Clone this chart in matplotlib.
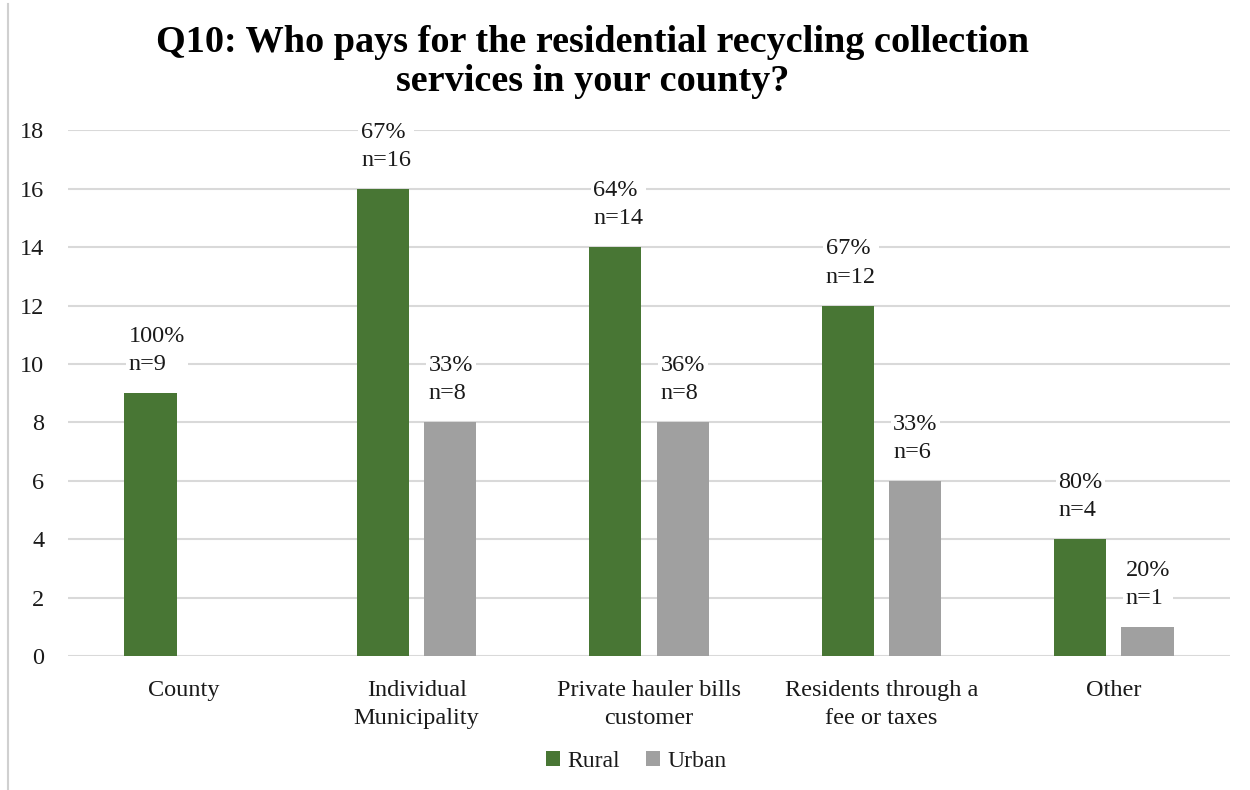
import numpy as np
import matplotlib.pyplot as plt
from matplotlib.lines import Line2D

plt.rcParams['font.family'] = ['Liberation Serif', 'DejaVu Serif']

categories = ['County', 'Individual\nMunicipality', 'Private hauler bills\ncustomer',
              'Residents through a\nfee or taxes', 'Other']
rural = [9, 16, 14, 12, 4]
urban = [0, 8, 8, 6, 1]
rural_pct = ['100%', '67%', '64%', '67%', '80%']
urban_pct = [None, '33%', '36%', '33%', '20%']

green = '#487634'
grey = '#a0a0a0'
text_col = '#1a1a1a'

fig = plt.figure(figsize=(12.5, 7.9), dpi=100)
ax = fig.add_axes([0.0544, 0.1696, 0.9296, 0.6654])

x = np.arange(len(categories))
w = 0.224
off = 0.145

ax.bar(x - off, rural, w, color=green, label='Rural', zorder=3)
ax.bar(x[np.array(urban) > 0] + off, [u for u in urban if u > 0], w,
       color=grey, label='Urban', zorder=3)

# value labels: percentage on top, count underneath
def add_label(xpos, val, pct):
    ax.annotate(f'{pct}\nn={val}', xy=(xpos - w / 2, val), xytext=(3, 13),
                textcoords='offset points', ha='left', va='bottom',
                fontsize=17.5, color=text_col, linespacing=1.45, zorder=4,
                bbox=dict(facecolor='white', edgecolor='none', pad=2))

for i in range(len(categories)):
    add_label(x[i] - off, rural[i], rural_pct[i])
    if urban[i] > 0:
        add_label(x[i] + off, urban[i], urban_pct[i])

ax.set_xlim(-0.5, len(categories) - 0.5)
ax.set_ylim(0, 18)
ax.set_yticks(range(0, 19, 2))
ax.yaxis.grid(True, color='#d9d9d9', linewidth=1.5, zorder=0)
ax.set_axisbelow(True)
for s in ax.spines.values():
    s.set_visible(False)
ax.tick_params(axis='both', length=0, labelsize=17.5, labelcolor=text_col)
ax.tick_params(axis='y', pad=17)
ax.tick_params(axis='x', pad=17)
ax.set_xticks(x)
ax.set_xticklabels(categories, linespacing=1.45)

fig.text(0.474, 0.968, 'Q10: Who pays for the residential recycling collection\nservices in your county?',
         ha='center', va='top', fontsize=27.5, fontweight='bold', color='black',
         linespacing=1.15)

ax.legend(loc='center', bbox_to_anchor=(0.489, -0.2), ncol=2, frameon=False,
          fontsize=17, handlelength=0.6, handleheight=0.6, handletextpad=0.3,
          columnspacing=1.1, labelcolor=text_col)

# thin frame line on the left edge
fig.add_artist(Line2D([0.0066, 0.0066], [0.0, 0.995], color='#d0d0d0', linewidth=1.5))

fig.savefig('out.png', dpi=100)
